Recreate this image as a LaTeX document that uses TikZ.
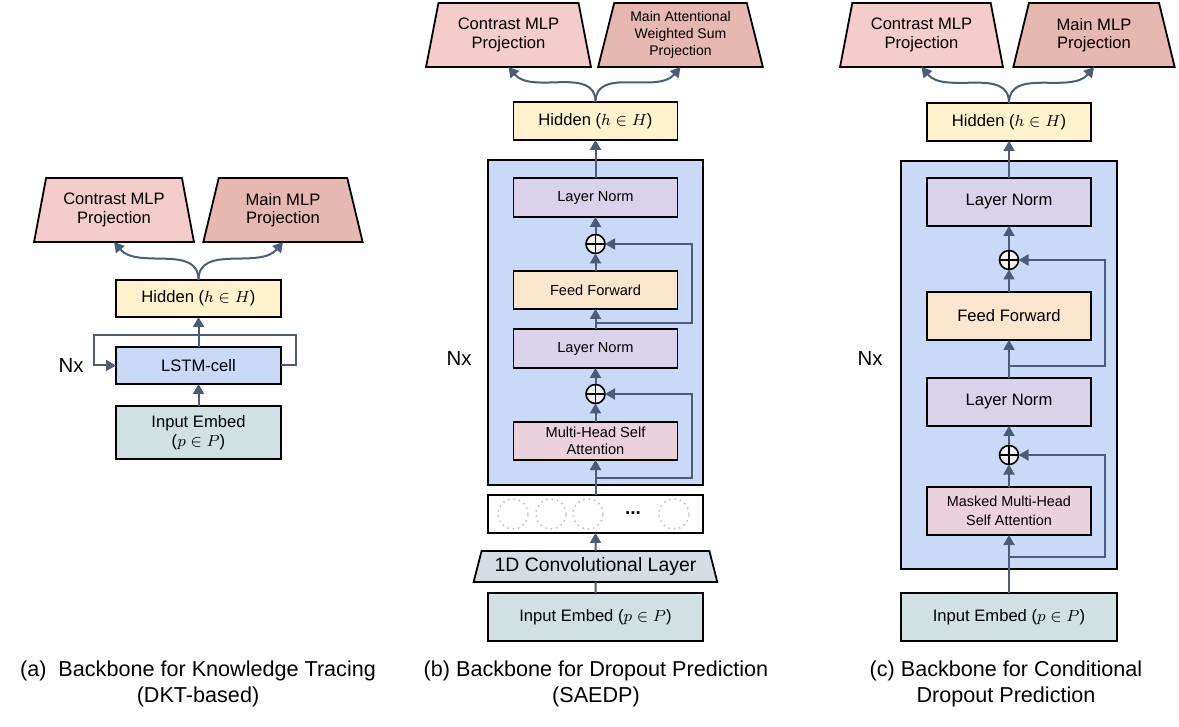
\documentclass[tikz,border=0pt]{standalone}
\usepackage{fontspec}
\setmainfont{Liberation Sans}
\usepackage{tikz}
\usetikzlibrary{calc, arrows.meta, positioning, shapes.geometric}

\definecolor{slate}{HTML}{4B5C78}
\definecolor{conc}{HTML}{F4CCCC}
\definecolor{mainc}{HTML}{E6B8AF}
\definecolor{hidc}{HTML}{FFF2CC}
\definecolor{bluec}{HTML}{C9DAF8}
\definecolor{inputc}{HTML}{D0E0E3}
\definecolor{normc}{HTML}{D9D2E9}
\definecolor{ffc}{HTML}{FCE5CD}
\definecolor{attc}{HTML}{EAD1DC}
\definecolor{convc}{HTML}{D6DCE4}

\begin{document}
\begin{tikzpicture}[x=0.5pt, y=-0.5pt, >={Triangle[width=5.5pt,length=5pt]},
  blk/.style={draw, line width=0.9pt, inner sep=1pt, outer sep=0pt, align=center, font=\fontsize{8.3pt}{9.4pt}\selectfont},
  small/.style={font=\fontsize{7.3pt}{8.4pt}\selectfont},
  proj/.style={draw, line width=0.9pt, trapezium, trapezium angle=76, trapezium stretches=true, outer sep=0pt,
    minimum width=81pt, minimum height=32pt, inner sep=1pt, align=center, font=\fontsize{8.3pt}{9.2pt}\selectfont},
  arr/.style={->, draw=slate, line width=1pt},
  oplus/.style={circle, draw, fill=gray!12, line width=0.8pt, minimum size=9.5pt, inner sep=0pt, outer sep=0pt,
    path picture={\draw[line width=0.8pt] (path picture bounding box.north) -- (path picture bounding box.south)
      (path picture bounding box.west) -- (path picture bounding box.east);}},
  dotc/.style={circle, draw=gray!55, dotted, line width=0.7pt, minimum size=15pt, inner sep=0pt},
  nxlabel/.style={font=\fontsize{10.2pt}{12pt}\selectfont},
  capt/.style={align=center, font=\fontsize{10.8pt}{13pt}\selectfont}]
\useasboundingbox (0,0) rectangle (1179,727);

% (a) DKT-based
\node (inA) [blk, fill=inputc, minimum width=82.5pt, minimum height=26.5pt] at (198.5,432.5) {Input Embed\\($p \in P$)};
\node (lstmA) [blk, fill=bluec, minimum width=82.5pt, minimum height=18.5pt, above=11pt of inA] {LSTM-cell};
\node (hidA) [blk, fill=hidc, minimum width=82.5pt, minimum height=18.5pt, above=15pt of lstmA] {Hidden ($h \in H$)};
\node (conA) [proj, fill=conc, minimum width=80pt] at (114,210) {Contrast MLP\\Projection};
\node (mainA) [proj, fill=mainc, minimum width=80pt] at (283,210) {Main MLP\\Projection};
\node (nxA) [nxlabel] at (71,365) {Nx};
\coordinate (loopA) at ([xshift=-11pt, yshift=6pt]lstmA.north west);

\draw[arr] (inA) -- (lstmA);
\draw[arr] (lstmA) -- (hidA);
\draw[arr] (lstmA.east) -- ++(15,0) |- (loopA) |- (lstmA.west);
\draw[arr] (hidA.north) to[out=90, in=-50] (conA.south);
\draw[arr] (hidA.north) to[out=90, in=-130] (mainA.south);

% (b) SAEDP
\node (stackB) [blk, fill=bluec, minimum width=107.5pt, minimum height=162.5pt] at (595.5,322.5) {};
\node (inB) [blk, fill=inputc, minimum width=107.5pt, minimum height=24pt] at (595.5,617) {Input Embed ($p \in P$)};
\node (convB) [proj, fill=convc, trapezium angle=72, minimum width=122pt, minimum height=15.5pt,
  font=\fontsize{9.7pt}{11pt}\selectfont, above=5.5pt of inB] {1D Convolutional Layer};
\node (dotsB) [blk, fill=white, minimum width=107.5pt, minimum height=19pt, above=9pt of convB] {};
\node (cir1) [dotc] at (513,514) {};
\node (cir2) [dotc] at (551,514) {};
\node (cir3) [dotc] at (588,514) {};
\node (ellB) [font=\bfseries\fontsize{9.5pt}{9.5pt}\selectfont] at (633,513) {...};
\node (cir4) [dotc] at (674,514) {};
\node (mhaB) [blk, small, fill=attc, minimum width=82pt, minimum height=19pt, above=12.5pt of stackB.south] {Multi-Head Self\\Attention};
\node (plB2) [oplus, above=9.25pt of mhaB] {};
\node (lnB2) [blk, small, fill=normc, minimum width=82pt, minimum height=19.5pt, above=8.25pt of plB2] {Layer Norm};
\node (ffB) [blk, small, fill=ffc, minimum width=82pt, minimum height=19pt, above=10pt of lnB2] {Feed Forward};
\node (plB1) [oplus, above=8.75pt of ffB] {};
\node (lnB1) [blk, small, fill=normc, minimum width=82pt, minimum height=19.5pt, above=8.75pt of plB1] {Layer Norm};
\node (hidB) [blk, fill=hidc, minimum width=82pt, minimum height=19pt, above=19pt of lnB1] {Hidden ($h \in H$)};
\node (conB) [proj, fill=conc, minimum width=82.5pt] at (508.5,35) {Contrast MLP\\Projection};
\node (mainB) [proj, fill=mainc, minimum width=82.5pt, font=\fontsize{7pt}{8.4pt}\selectfont] at (680.5,35) {Main Attentional\\Weighted Sum\\Projection};
\node (nxB) [nxlabel] at (459,358) {Nx};
\coordinate (brB1) at ([yshift=3pt]lnB2.north);
\coordinate (brB2) at ([yshift=3.5pt]stackB.south);

\draw[draw=slate, line width=1pt] (inB) -- (convB);
\draw[arr] (convB) -- (dotsB);
\draw[arr] (dotsB) -- (mhaB);
\draw[arr] (mhaB) -- (plB2);
\draw[arr] (plB2) -- (lnB2);
\draw[arr] (lnB2) -- (ffB);
\draw[arr] (ffB) -- (plB1);
\draw[arr] (plB1) -- (lnB1);
\draw[arr] (lnB1) -- (hidB);
\draw[arr] (brB2) -- ++(96,0) |- (plB2);
\draw[arr] (brB1) -- ++(96,0) |- (plB1);
\draw[arr] (hidB.north) to[out=90, in=-50] (conB.south);
\draw[arr] (hidB.north) to[out=90, in=-130] (mainB.south);

% (c) conditional
\node (stackC) [blk, fill=bluec, minimum width=108pt, minimum height=204pt] at (1009,365) {};
\node (inC) [blk, fill=inputc, minimum width=108pt, minimum height=24pt] at (1009,617) {Input Embed ($p \in P$)};
\node (mhaC) [blk, fill=attc, minimum width=82pt, minimum height=24pt, font=\fontsize{7.2pt}{9.2pt}\selectfont,
  above=17pt of stackC.south] {Masked Multi-Head\\Self Attention};
\node (plC2) [oplus, above=11.25pt of mhaC] {};
\node (lnC2) [blk, fill=normc, minimum width=82pt, minimum height=24pt, above=9.75pt of plC2] {Layer Norm};
\node (ffC) [blk, fill=ffc, minimum width=82pt, minimum height=24pt, above=19pt of lnC2] {Feed Forward};
\node (plC1) [oplus, above=11.25pt of ffC] {};
\node (lnC1) [blk, fill=normc, minimum width=82pt, minimum height=24pt, above=12.25pt of plC1] {Layer Norm};
\node (hidC) [blk, fill=hidc, minimum width=82pt, minimum height=19pt, above=18.5pt of lnC1] {Hidden ($h \in H$)};
\node (conC) [proj, fill=conc, minimum width=81.5pt] at (921.5,35) {Contrast MLP\\Projection};
\node (mainC) [proj, fill=mainc, minimum width=81pt] at (1094,35) {Main MLP\\Projection};
\node (nxC) [nxlabel] at (870,358) {Nx};
\coordinate (brC1) at ([yshift=6pt]lnC2.north);
\coordinate (brC2) at ([yshift=6pt]stackC.south);

\draw[arr] (inC) -- (mhaC);
\draw[arr] (mhaC) -- (plC2);
\draw[arr] (plC2) -- (lnC2);
\draw[arr] (lnC2) -- (ffC);
\draw[arr] (ffC) -- (plC1);
\draw[arr] (plC1) -- (lnC1);
\draw[arr] (lnC1) -- (hidC);
\draw[arr] (brC2) -- ++(96,0) |- (plC2);
\draw[arr] (brC1) -- ++(96,0) |- (plC1);
\draw[arr] (hidC.north) to[out=90, in=-50] (conC.south);
\draw[arr] (hidC.north) to[out=90, in=-130] (mainC.south);

% captions
\node (capA) [capt] at (198,684) {(a)\ \ Backbone for Knowledge Tracing\\(DKT-based)};
\node (capB) [capt] at (596,684) {(b) Backbone for Dropout Prediction\\(SAEDP)};
\node (capC) [capt] at (1006,684) {(c) Backbone for Conditional\\Dropout Prediction};
\end{tikzpicture}
\end{document}
